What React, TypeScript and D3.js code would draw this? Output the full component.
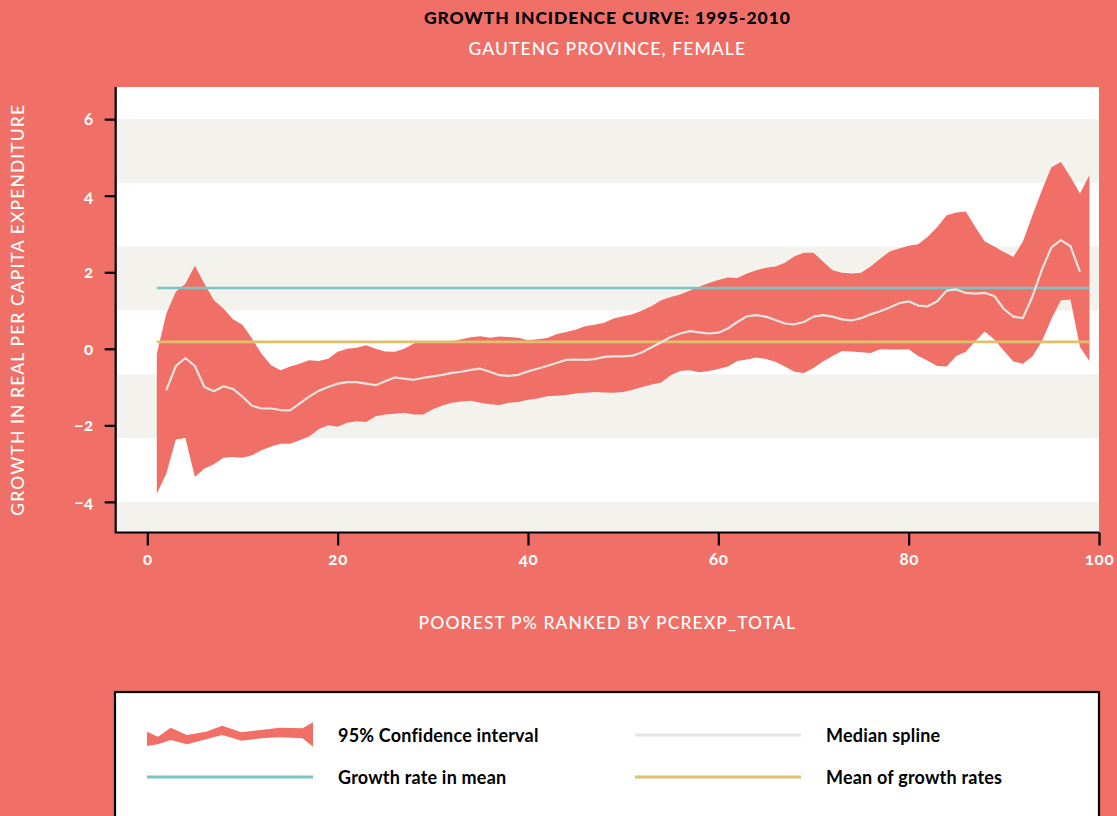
import React, { useEffect, useRef } from "react";
import * as d3 from "d3";

// 95% confidence interval, percentiles 1..99
const ciUpper = [
  -0.13, 0.92, 1.49, 1.7, 2.17, 1.7, 1.27, 1.05, 0.77, 0.63,
  0.27, -0.13, -0.43, -0.56, -0.46, -0.39, -0.3, -0.32, -0.26, -0.08,
  0.0, 0.03, 0.09, 0.0, -0.07, -0.08, 0.0, 0.14, 0.2, 0.18,
  0.16, 0.2, 0.25, 0.3, 0.33, 0.29, 0.32, 0.31, 0.29, 0.22,
  0.25, 0.28, 0.38, 0.44, 0.5, 0.59, 0.63, 0.68, 0.79, 0.85,
  0.9, 1.0, 1.12, 1.27, 1.35, 1.42, 1.52, 1.62, 1.72, 1.8,
  1.86, 1.85, 1.97, 2.05, 2.12, 2.15, 2.25, 2.42, 2.51, 2.51,
  2.28, 2.05, 1.99, 1.97, 1.99, 2.15, 2.35, 2.54, 2.62, 2.69,
  2.73, 2.93, 3.18, 3.49, 3.56, 3.59, 3.18, 2.8, 2.67, 2.53,
  2.4, 2.8, 3.48, 4.14, 4.74, 4.88, 4.49, 4.06, 4.54,
];
const ciLower = [
  -3.79, -3.26, -2.37, -2.33, -3.35, -3.13, -3.02, -2.85, -2.83, -2.85,
  -2.78, -2.65, -2.55, -2.48, -2.48, -2.39, -2.29, -2.1, -2.0, -2.04,
  -1.93, -1.89, -1.91, -1.76, -1.72, -1.7, -1.67, -1.72, -1.72, -1.58,
  -1.48, -1.41, -1.38, -1.36, -1.41, -1.45, -1.47, -1.41, -1.39, -1.33,
  -1.3, -1.24, -1.23, -1.21, -1.17, -1.15, -1.13, -1.14, -1.15, -1.13,
  -1.07, -1.0, -0.93, -0.88, -0.69, -0.58, -0.56, -0.61, -0.58, -0.53,
  -0.46, -0.32, -0.28, -0.23, -0.27, -0.34, -0.46, -0.6, -0.63, -0.5,
  -0.33, -0.19, -0.06, -0.07, -0.09, -0.11, -0.01, -0.02, -0.02, -0.01,
  -0.19, -0.31, -0.45, -0.46, -0.19, -0.08, 0.2, 0.45, 0.24, -0.05,
  -0.33, -0.39, -0.2, 0.2, 0.78, 1.27, 1.29, 0.05, -0.32,
];
// median spline, percentiles 2..98
const medianSpline = [
  -1.08, -0.45, -0.24, -0.45, -1.0, -1.11, -0.98, -1.05, -1.25,
  -1.49, -1.56, -1.56, -1.6, -1.61, -1.43, -1.25, -1.1, -1.0, -0.91,
  -0.87, -0.87, -0.91, -0.95, -0.85, -0.75, -0.78, -0.81, -0.76, -0.72,
  -0.68, -0.63, -0.6, -0.55, -0.52, -0.6, -0.69, -0.71, -0.68, -0.59,
  -0.52, -0.45, -0.37, -0.29, -0.28, -0.29, -0.27, -0.21, -0.2, -0.2,
  -0.18, -0.09, 0.04, 0.17, 0.31, 0.4, 0.46, 0.43, 0.4, 0.42,
  0.53, 0.7, 0.85, 0.88, 0.84, 0.75, 0.66, 0.64, 0.7, 0.84,
  0.88, 0.84, 0.77, 0.74, 0.8, 0.9, 0.98, 1.08, 1.19, 1.24,
  1.13, 1.11, 1.24, 1.52, 1.55, 1.46, 1.44, 1.46, 1.38, 1.04,
  0.84, 0.8, 1.36, 2.07, 2.65, 2.84, 2.68, 2.01,
];
const growthRateInMean = 1.59;
const meanOfGrowthRates = 0.18;

const xTicks = [0, 20, 40, 60, 80, 100];
const yTicks = [-4, -2, 0, 2, 4, 6];
const shadedBands = [[6, 4.333], [2.667, 1], [-0.667, -2.333], [-4, -5.667]];

// little jagged swatch for the legend
const swatchX = [0, 0.66, 1.43, 2.4, 3.56, 4.53, 5.69, 6.85, 8.0, 9.37, 10];
const swatchUpper = [0.33, -0.17, 0.73, 0, 0.33, 0.93, 0.27, 0.5, 0.73, 0.67, 1.27];
const swatchLower = [-1.1, -0.93, -0.5, -0.93, -0.43, 0, -0.57, -0.33, -0.23, -0.33, -1.17];

const RED = "#f07068";
const TEAL = "#7cc3c3";
const GOLD = "#e0c06c";
const MEDIAN = "#e6e4de";
const SHADE = "#f3f2ed";
const FONT = "Lato, 'Open Sans', sans-serif";

export default function App() {
  const ref = useRef<SVGSVGElement>(null);

  useEffect(() => {
    const svg = d3.select(ref.current);
    svg.selectAll("*").remove();
    const W = 1117, H = 816;
    const left = 115.7, right = 1099, top = 87, bottom = 532.5;

    const x = d3.scaleLinear().domain([-3.32, 100]).range([left, right]);
    const y = d3.scaleLinear().domain([-4.8, 6.84]).range([bottom, top]);

    svg.append("rect").attr("width", W).attr("height", H).attr("fill", RED);
    svg.append("rect").attr("x", left).attr("y", top).attr("width", right - left)
      .attr("height", bottom - top).attr("fill", "#fff");

    svg.append("g").selectAll("rect").data(shadedBands).join("rect")
      .attr("x", left).attr("width", right - left)
      .attr("y", (d) => y(d[0]))
      .attr("height", (d) => Math.min(y(d[1]), bottom) - y(d[0]))
      .attr("fill", SHADE);

    const ci = ciUpper.map((u, i) => ({ p: i + 1, hi: u, lo: ciLower[i] }));
    const area = d3.area<any>().x((d) => x(d.p)).y0((d) => y(d.lo)).y1((d) => y(d.hi));
    svg.append("path").datum(ci).attr("d", area).attr("fill", RED);

    const hline = (v: number, color: string) =>
      svg.append("line").attr("x1", x(1)).attr("x2", x(99)).attr("y1", y(v)).attr("y2", y(v))
        .attr("stroke", color).attr("stroke-width", 2.6);
    hline(growthRateInMean, TEAL);
    hline(meanOfGrowthRates, GOLD);

    const med = medianSpline.map((v, i) => ({ p: i + 2, v }));
    const line = d3.line<any>().x((d) => x(d.p)).y((d) => y(d.v));
    svg.append("path").datum(med).attr("d", line).attr("fill", "none")
      .attr("stroke", MEDIAN).attr("stroke-width", 2.2).attr("stroke-linejoin", "round");

    // L-shaped frame
    svg.append("path").attr("d", `M${left},${top} V${bottom} H${right}`)
      .attr("fill", "none").attr("stroke", "#000").attr("stroke-width", 2.2);

    const xAxis = svg.append("g").attr("transform", `translate(0,${bottom})`)
      .call(d3.axisBottom(x).tickValues(xTicks).tickSize(13).tickPadding(7.5));
    const yAxis = svg.append("g").attr("transform", `translate(${left},0)`)
      .call(d3.axisLeft(y).tickValues(yTicks).tickSize(11).tickPadding(11));
    [xAxis, yAxis].forEach((a) => {
      a.select(".domain").remove();
      a.selectAll("line").attr("stroke", "#000").attr("stroke-width", 2.2);
      a.selectAll("text").attr("fill", "#fff").attr("font-family", FONT)
        .attr("font-size", 17).attr("font-weight", 700).attr("letter-spacing", 0.6)
        .style("font-variant-numeric", "oldstyle-nums");
    });

    const cx = (left + right) / 2;
    const heading = (txt: string, yy: number, weight: number, color: string, ls: number) =>
      svg.append("text").attr("x", cx).attr("y", yy).attr("text-anchor", "middle")
        .attr("font-family", FONT).attr("font-weight", weight).attr("font-size", 17.5)
        .attr("letter-spacing", ls).attr("fill", color).text(txt);
    heading("GROWTH INCIDENCE CURVE: 1995-2010", 23.5, 900, "#000", 0.9);
    heading("GAUTENG PROVINCE, FEMALE", 54.5, 500, "#fff", 1.1);
    heading("POOREST P% RANKED BY PCREXP_TOTAL", 629, 500, "#fff", 1.1);
    svg.append("text").attr("transform", `translate(24,${(top + bottom) / 2}) rotate(-90)`)
      .attr("text-anchor", "middle").attr("font-family", FONT).attr("font-weight", 500)
      .attr("font-size", 17.5).attr("letter-spacing", 1.1).attr("fill", "#fff")
      .text("GROWTH IN REAL PER CAPITA EXPENDITURE");

    // legend
    const lg = svg.append("g");
    lg.append("rect").attr("x", 115).attr("y", 692).attr("width", 984).attr("height", 160)
      .attr("fill", "#fff").attr("stroke", "#000").attr("stroke-width", 2.2);

    const sx = d3.scaleLinear().domain([0, 10]).range([147, 313]);
    const sy = d3.scaleLinear().domain([-1, 1]).range([745, 725]);
    const sw = swatchX.map((t, i) => ({ t, hi: swatchUpper[i], lo: swatchLower[i] }));
    lg.append("path").datum(sw)
      .attr("d", d3.area<any>().x((d) => sx(d.t)).y0((d) => sy(d.lo)).y1((d) => sy(d.hi)))
      .attr("fill", RED);

    const items = [
      { label: "95% Confidence interval", col: 0, row: 0, color: null },
      { label: "Median spline", col: 1, row: 0, color: MEDIAN },
      { label: "Growth rate in mean", col: 0, row: 1, color: TEAL },
      { label: "Mean of growth rates", col: 1, row: 1, color: GOLD },
    ];
    const colX = [147, 635];
    const rowY = [735, 777];
    items.forEach((it) => {
      const x0 = colX[it.col], yy = rowY[it.row];
      if (it.color) {
        lg.append("line").attr("x1", x0).attr("x2", x0 + 166).attr("y1", yy).attr("y2", yy)
          .attr("stroke", it.color).attr("stroke-width", 2.8);
      }
      lg.append("text").attr("x", x0 + 191).attr("y", yy + 6.5).attr("font-family", FONT)
        .attr("font-weight", 700).attr("font-size", 18).attr("letter-spacing", 0.2)
        .attr("fill", "#000").text(it.label);
    });
  }, []);

  return (
    <svg ref={ref} width={1117} height={816}
      style={{ position: "absolute", left: 0, top: 0, display: "block" }} />
  );
}
